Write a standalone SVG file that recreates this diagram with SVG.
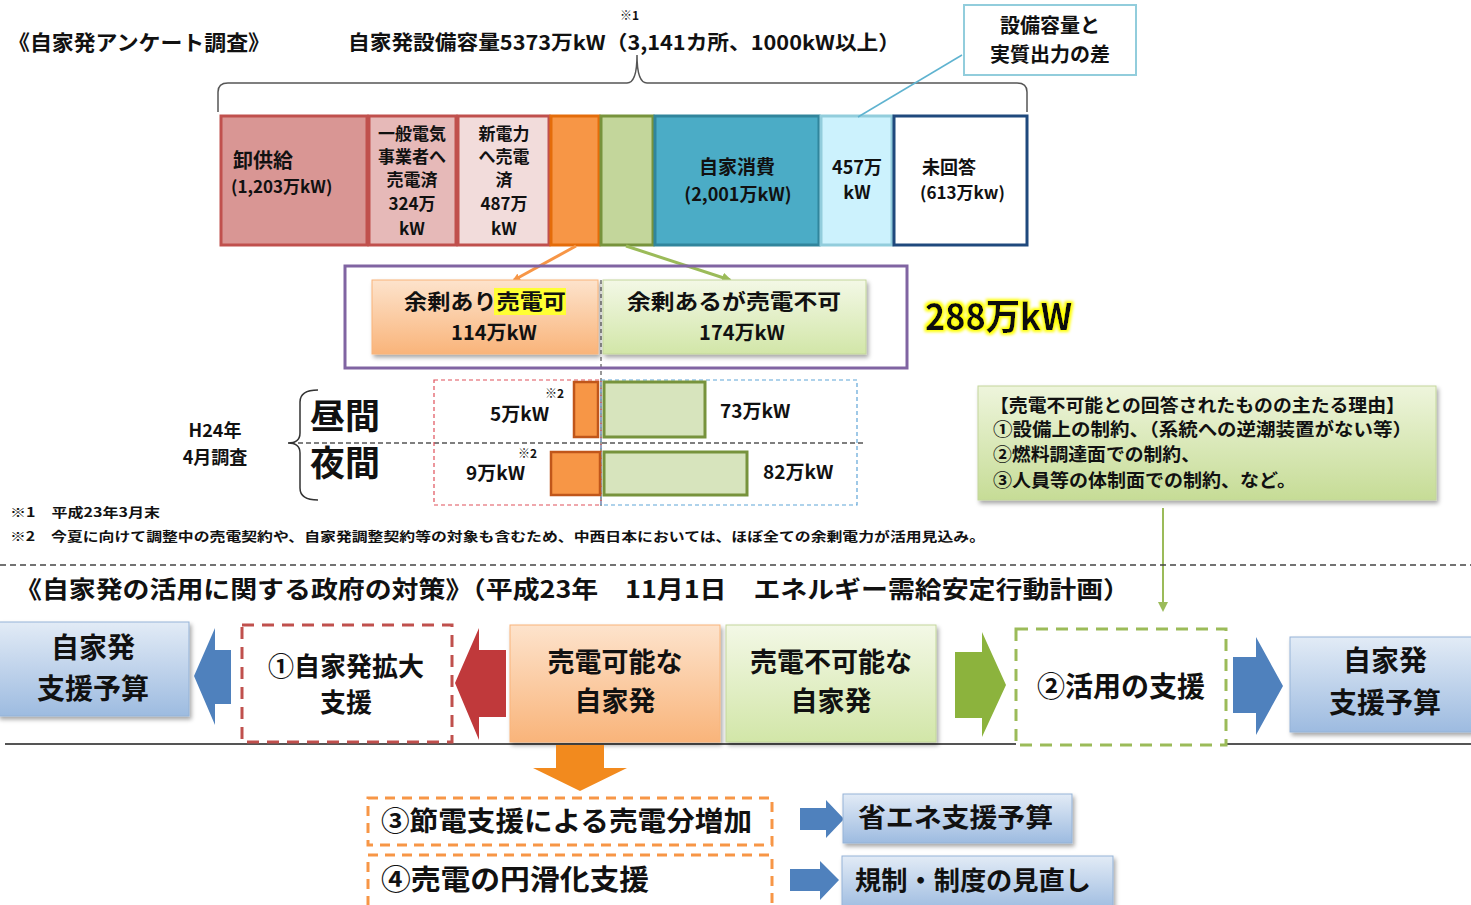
<svg xmlns="http://www.w3.org/2000/svg" width="1471" height="905" viewBox="0 0 1471 905">
<style>
text{font-family:"Noto Sans CJK JP","Noto Sans CJK SC",sans-serif;font-weight:bold;fill:#111}
.c{text-anchor:middle}
.bar{stroke-width:3}
</style>
<defs>
<linearGradient id="gOr" x1="0" y1="0" x2="0" y2="1"><stop offset="0" stop-color="#fde3cc"/><stop offset="1" stop-color="#f9b47a"/></linearGradient>
<linearGradient id="gGr" x1="0" y1="0" x2="0" y2="1"><stop offset="0" stop-color="#f3f8e6"/><stop offset="1" stop-color="#d2e6a8"/></linearGradient>
<linearGradient id="gGr2" x1="0" y1="0" x2="0" y2="1"><stop offset="0" stop-color="#eef5dc"/><stop offset="1" stop-color="#c6dc96"/></linearGradient>
<linearGradient id="gBl" x1="0" y1="0" x2="0" y2="1"><stop offset="0" stop-color="#e2ebf6"/><stop offset="1" stop-color="#9dbbe0"/></linearGradient>
<filter id="sh" x="-10%" y="-10%" width="125%" height="130%"><feDropShadow dx="2" dy="3" stdDeviation="2" flood-color="#000" flood-opacity="0.35"/></filter>
<filter id="glow" x="-10%" y="-20%" width="120%" height="140%"><feMorphology in="SourceAlpha" operator="dilate" radius="2" result="d"/><feGaussianBlur in="d" stdDeviation="1.5" result="b"/><feFlood flood-color="#ffff00"/><feComposite in2="b" operator="in" result="y"/><feMerge><feMergeNode in="y"/><feMergeNode in="SourceGraphic"/></feMerge></filter>
<marker id="aOr" markerWidth="8" markerHeight="8" refX="6" refY="4" orient="auto" markerUnits="userSpaceOnUse"><path d="M0,0 L8,4 L0,8 Z" fill="#f79646"/></marker>
<marker id="aGr" markerWidth="10" markerHeight="10" refX="8" refY="5" orient="auto" markerUnits="userSpaceOnUse"><path d="M0,0 L10,5 L0,10 Z" fill="#9bbb59"/></marker>
</defs>
<rect width="1471" height="905" fill="#fff"/>

<!-- Top titles -->
<text x="8" y="50" font-size="21" textLength="262" lengthAdjust="spacingAndGlyphs">《自家発アンケート調査》</text>
<text x="620" y="20" font-size="12">※1</text>
<text x="348" y="50" font-size="20" textLength="552" lengthAdjust="spacingAndGlyphs">自家発設備容量5373万kW（3,141カ所、1000kW以上）</text>

<g id="callout">
<rect x="964" y="5" width="172" height="70" fill="#fff" stroke="#92cddc" stroke-width="2"/>
<text x="1050" y="33" font-size="20" class="c">設備容量と</text>
<text x="1050" y="62" font-size="20" class="c">実質出力の差</text>
</g>

<!-- top brace -->
<path d="M218,112 L218,92 Q218,83 228,83 L627,83 Q637,83 637,55 Q637,83 647,83 L1017,83 Q1027,83 1027,92 L1027,112" fill="none" stroke="#555" stroke-width="1.5"/>

<g id="bars">
<rect class="bar" x="221" y="116" width="146" height="129" fill="#d99694" stroke="#c0504d"/>
<rect class="bar" x="369" y="116" width="87" height="129" fill="#e6b9b8" stroke="#c0504d"/>
<rect class="bar" x="458" y="116" width="91" height="129" fill="#f2dcdb" stroke="#c0504d"/>
<rect class="bar" x="551" y="116" width="48" height="129" fill="#f79646" stroke="#e46c0a"/>
<rect class="bar" x="601" y="116" width="52" height="129" fill="#c3d69b" stroke="#77933c"/>
<rect class="bar" x="655" y="116" width="164" height="129" fill="#4bacc6" stroke="#31859c"/>
<rect class="bar" x="821" y="116" width="71" height="129" fill="#ccf2fd" stroke="#92cddc"/>
<rect class="bar" x="894" y="116" width="133" height="129" fill="#fff" stroke="#1f497d"/>
<text x="233" y="168" font-size="20">卸供給</text>
<text x="231" y="193" font-size="17">(1,203万kW)</text>
<g font-size="17" class="c">
<text x="412" y="140">一般電気</text><text x="412" y="163">事業者へ</text><text x="412" y="186">売電済</text><text x="412" y="210">324万</text><text x="412" y="235">kW</text>
<text x="504" y="140">新電力</text><text x="504" y="163">へ売電</text><text x="504" y="186">済</text><text x="504" y="210">487万</text><text x="504" y="235">kW</text>
</g>
<text x="737" y="174" font-size="19" class="c">自家消費</text>
<text x="738" y="201" font-size="18" class="c">(2,001万kW)</text>
<text x="857" y="174" font-size="18" class="c">457万</text>
<text x="857" y="199" font-size="18" class="c">kW</text>
<text x="922" y="174" font-size="18">未回答</text>
<text x="920" y="199" font-size="17">(613万kw)</text>
</g>

<g id="connectors" fill="none">
<line x1="962" y1="55" x2="858" y2="117" stroke="#5fb3d0" stroke-width="1.5"/>
<line x1="576" y1="246" x2="514" y2="280" stroke="#f79646" stroke-width="3" marker-end="url(#aOr)"/>
<line x1="626" y1="246" x2="730" y2="280" stroke="#9bbb59" stroke-width="3" marker-end="url(#aGr)"/>
<line x1="1163" y1="508" x2="1163" y2="610" stroke="#9bbb59" stroke-width="2" marker-end="url(#aGr)"/>
<line x1="601" y1="280" x2="601" y2="506" stroke="#333" stroke-width="1" stroke-dasharray="4,3"/>
<line x1="290" y1="443" x2="866" y2="443" stroke="#555" stroke-width="1.5" stroke-dasharray="5,3"/>
<line x1="0" y1="565" x2="1471" y2="565" stroke="#444" stroke-width="1.5" stroke-dasharray="6,4"/>
<line x1="5" y1="744" x2="1471" y2="744" stroke="#555" stroke-width="2"/>
</g>

<g id="surplus">
<rect x="345" y="266" width="562" height="102" fill="none" stroke="#8064a2" stroke-width="3"/>
<rect x="372" y="280" width="226" height="74" fill="url(#gOr)" stroke="#f9b47a" filter="url(#sh)"/>
<rect x="603" y="280" width="263" height="74" fill="url(#gGr)" stroke="#c3d69b" filter="url(#sh)"/>
<rect x="494" y="288" width="72" height="27" fill="#ffff33"/>
<text x="404" y="309" font-size="21" textLength="162" lengthAdjust="spacingAndGlyphs">余剰あり売電可</text>
<text x="494" y="340" font-size="20" class="c">114万kW</text>
<text x="627" y="309" font-size="21" textLength="214" lengthAdjust="spacingAndGlyphs">余剰あるが売電不可</text>
<text x="742" y="340" font-size="20" class="c">174万kW</text>
<text x="925" y="330" font-size="36" filter="url(#glow)" textLength="147" lengthAdjust="spacingAndGlyphs">288万kW</text>
</g>

<g id="survey">
<text x="215" y="437" font-size="18" class="c">H24年</text>
<text x="215" y="464" font-size="18" class="c">4月調査</text>
<path d="M318,390 Q300,390 300,402 L300,433 Q300,443 288,443 Q300,443 300,453 L300,488 Q300,500 318,500" fill="none" stroke="#333" stroke-width="1.5"/>
<text x="310" y="429" font-size="35">昼間</text>
<text x="310" y="476" font-size="35">夜間</text>
<rect x="434" y="380" width="167" height="125" fill="none" stroke="#e0505a" stroke-width="1.2" stroke-dasharray="4,3"/>
<rect x="601" y="380" width="256" height="125" fill="none" stroke="#5fa5d8" stroke-width="1.2" stroke-dasharray="4,3"/>
<rect x="574" y="382" width="24" height="55" fill="#f79646" stroke="#c0561a" stroke-width="2.5"/>
<rect x="551" y="452" width="49" height="43" fill="#f79646" stroke="#c0561a" stroke-width="2.5"/>
<rect x="604" y="382" width="101" height="55" fill="#d7e4bd" stroke="#77933c" stroke-width="3"/>
<rect x="604" y="452" width="143" height="43" fill="#d7e4bd" stroke="#77933c" stroke-width="3"/>
<text x="545" y="398" font-size="12">※2</text>
<text x="490" y="421" font-size="19">5万kW</text>
<text x="720" y="418" font-size="19">73万kW</text>
<text x="518" y="458" font-size="12">※2</text>
<text x="466" y="480" font-size="19">9万kW</text>
<text x="763" y="479" font-size="19">82万kW</text>
</g>

<g id="reasons">
<rect x="978" y="386" width="458" height="114" fill="url(#gGr2)" stroke="#c3d69b" filter="url(#sh)"/>
<text x="990" y="412" font-size="18" textLength="415" lengthAdjust="spacingAndGlyphs">【売電不可能との回答されたものの主たる理由】</text>
<text x="993" y="436" font-size="18" textLength="419" lengthAdjust="spacingAndGlyphs">①設備上の制約、（系統への逆潮装置がない等）</text>
<text x="993" y="461" font-size="18" textLength="207" lengthAdjust="spacingAndGlyphs">②燃料調達面での制約、</text>
<text x="993" y="487" font-size="18" textLength="303" lengthAdjust="spacingAndGlyphs">③人員等の体制面での制約、など。</text>
</g>

<g id="notes">
<text x="10" y="517" font-size="13" textLength="150" lengthAdjust="spacingAndGlyphs">※1　平成23年3月末</text>
<text x="10" y="541" font-size="13" textLength="975" lengthAdjust="spacingAndGlyphs">※2　今夏に向けて調整中の売電契約や、自家発調整契約等の対象も含むため、中西日本においては、ほぼ全ての余剰電力が活用見込み。</text>
</g>

<text x="15" y="598" font-size="24" textLength="1115" lengthAdjust="spacingAndGlyphs">《自家発の活用に関する政府の対策》（平成23年　11月1日　エネルギー需給安定行動計画）</text>

<g id="budgetL">
<rect x="-2" y="622" width="191" height="94" fill="url(#gBl)" stroke="#95b3d7" filter="url(#sh)"/>
<text x="93" y="658" font-size="28" class="c">自家発</text>
<text x="93" y="699" font-size="28" class="c">支援予算</text>
</g>
<polygon points="231,650 215,650 215,628 194,676 215,725 215,704 231,704" fill="#4f81bd"/>
<g id="expand">
<rect x="242" y="625" width="210" height="117" fill="#fff" stroke="#c0504d" stroke-width="3" stroke-dasharray="12,8"/>
<text x="346" y="676" font-size="26" class="c">①自家発拡大</text>
<text x="346" y="712" font-size="26" class="c">支援</text>
</g>
<polygon points="506,650 479,650 479,628 455,683 479,740 479,717 506,717" fill="#c0393b"/>
<g id="sellable">
<rect x="510" y="625" width="210" height="117" fill="url(#gOr)" stroke="#f9b47a" filter="url(#sh)"/>
<text x="615" y="672" font-size="27" class="c">売電可能な</text>
<text x="615" y="711" font-size="27" class="c">自家発</text>
</g>
<g id="unsellable">
<rect x="726" y="625" width="210" height="117" fill="url(#gGr)" stroke="#c3d69b" filter="url(#sh)"/>
<text x="831" y="672" font-size="27" class="c">売電不可能な</text>
<text x="831" y="711" font-size="27" class="c">自家発</text>
</g>
<polygon points="955,652 982,652 982,632 1006,685 982,737 982,718 955,718" fill="#8cb33d"/>
<g id="utilize">
<rect x="1016" y="629" width="210" height="116" fill="#fff" stroke="#9bbb59" stroke-width="3" stroke-dasharray="12,8"/>
<text x="1121" y="697" font-size="28" class="c">②活用の支援</text>
</g>
<polygon points="1233,657 1256,657 1256,637 1283,686 1256,735 1256,713 1233,713" fill="#4f81bd"/>
<g id="budgetR">
<rect x="1290" y="637" width="183" height="95" fill="url(#gBl)" stroke="#95b3d7" filter="url(#sh)"/>
<text x="1385" y="671" font-size="28" class="c">自家発</text>
<text x="1385" y="713" font-size="28" class="c">支援予算</text>
</g>

<polygon points="556,745 604,745 604,768 627,768 580,791 533,768 556,768" fill="#f28a1e"/>

<g id="m3">
<rect x="368" y="798" width="404" height="47" fill="#fff" stroke="#f79646" stroke-width="3" stroke-dasharray="10,7"/>
<text x="381" y="831" font-size="27" textLength="371" lengthAdjust="spacingAndGlyphs">③節電支援による売電分増加</text>
</g>
<g id="m4">
<rect x="368" y="855" width="404" height="55" fill="#fff" stroke="#f79646" stroke-width="3" stroke-dasharray="10,7"/>
<text x="381" y="890" font-size="28" textLength="268" lengthAdjust="spacingAndGlyphs">④売電の円滑化支援</text>
</g>
<polygon points="800,808 826,808 826,800 844,819 826,838 826,830 800,830" fill="#4f81bd"/>
<polygon points="790,869 820,869 820,861 839,880 820,900 820,891 790,891" fill="#4f81bd"/>
<g id="energy">
<rect x="843" y="794" width="229" height="49" fill="url(#gBl)" stroke="#95b3d7" filter="url(#sh)"/>
<text x="858" y="827" font-size="26" textLength="195" lengthAdjust="spacingAndGlyphs">省エネ支援予算</text>
</g>
<g id="regulation">
<rect x="842" y="856" width="271" height="55" fill="url(#gBl)" stroke="#95b3d7" filter="url(#sh)"/>
<text x="855" y="890" font-size="26" textLength="236" lengthAdjust="spacingAndGlyphs">規制・制度の見直し</text>
</g>
</svg>
